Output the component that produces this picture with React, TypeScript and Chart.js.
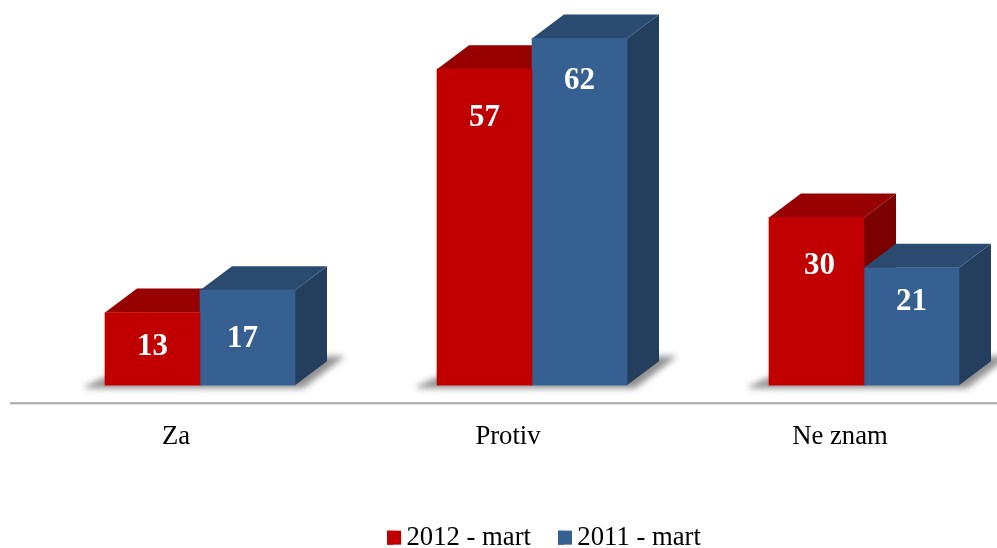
import React, { useEffect, useRef } from "react";
import { Chart, registerables } from "chart.js";

Chart.register(...registerables);

const categories = ["Za", "Protiv", "Ne znam"];
const series2012 = [13, 56.5, 30];
const series2011 = [17, 62, 21];
const seriesNames = ["2012 - mart", "2011 - mart"];

// Style: colours of the 3D faces and nudges of the value labels, in pixels.
const faces = [
  { front: "#c00000", top: "#960000", side: "#7c0000" },
  { front: "#376092", top: "#2a4a70", side: "#243e5e" },
];
const labelNudges = [
  [[0, 34], [0, 49], [3, 49]],
  [[-5, 49], [0, 43], [0, 34]],
];
const DEPTH_X = 32;
const DEPTH_Y = 24;
const LEGEND_SHIFT = 12;
const FONT = "'Liberation Serif', 'Times New Roman', serif";

const poly = (ctx: CanvasRenderingContext2D, pts: number[][], fill: string) => {
  ctx.beginPath();
  pts.forEach(([x, y], i) => (i ? ctx.lineTo(x, y) : ctx.moveTo(x, y)));
  ctx.closePath();
  ctx.fillStyle = fill;
  ctx.fill();
};

const bars3d = {
  id: "bars3d",
  afterLayout(chart: any) {
    chart.legend.left += LEGEND_SHIFT;
    chart.legend.right += LEGEND_SHIFT;
  },
  beforeDatasetsDraw(chart: any) {
    const { ctx } = chart;
    const first = chart.getDatasetMeta(0).data;
    const second = chart.getDatasetMeta(1).data;
    // floor shadows
    first.forEach((bar: any, i: number) => {
      const left = bar.x - bar.width / 2;
      const right = second[i].x + second[i].width / 2;
      const base = bar.base;
      ctx.save();
      ctx.filter = "blur(3px)";
      poly(
        ctx,
        [
          [left - 20, base + 1],
          [left + 14, base - 14],
          [right + DEPTH_X, base - 29],
          [right + DEPTH_X + 18, base - 29],
          [right + 8, base + 3],
          [left - 20, base + 3],
        ],
        "rgba(125,125,125,0.85)"
      );
      ctx.restore();
    });
    // top and side faces
    [first, second].forEach((bars: any[], d: number) => {
      bars.forEach((bar: any) => {
        const l = bar.x - bar.width / 2;
        const r = bar.x + bar.width / 2;
        const t = bar.y;
        const b = bar.base;
        poly(ctx, [[r, t], [r + DEPTH_X, t - DEPTH_Y], [r + DEPTH_X, b - DEPTH_Y], [r, b]], faces[d].side);
        poly(ctx, [[l, t], [l + DEPTH_X, t - DEPTH_Y], [r + DEPTH_X, t - DEPTH_Y], [r, t]], faces[d].top);
      });
    });
  },
  afterDatasetsDraw(chart: any) {
    const { ctx } = chart;
    ctx.save();
    ctx.fillStyle = "#ffffff";
    ctx.font = `bold 31px ${FONT}`;
    ctx.textAlign = "center";
    ctx.textBaseline = "middle";
    chart.data.datasets.forEach((ds: any, d: number) => {
      chart.getDatasetMeta(d).data.forEach((bar: any, i: number) => {
        const [nx, ny] = labelNudges[d][i];
        ctx.fillText(String(Math.round(ds.data[i])), bar.x + nx, bar.y + ny);
      });
    });
    ctx.restore();
  },
  afterDraw(chart: any) {
    const { ctx, scales } = chart;
    ctx.save();
    ctx.strokeStyle = "#a6a6a6";
    ctx.lineWidth = 2;
    ctx.beginPath();
    ctx.moveTo(10, scales.x.top);
    ctx.lineTo(chart.width, scales.x.top);
    ctx.stroke();
    // legend squares, wider than the native box so the text gap stays tight
    chart.legend.legendHitBoxes.forEach((box: any, i: number) => {
      ctx.fillStyle = faces[i].front;
      ctx.fillRect(box.left, box.top + (box.height - 14) / 2, 14, 14);
    });
    ctx.restore();
  },
};

export default function App() {
  const ref = useRef<HTMLCanvasElement>(null);
  useEffect(() => {
    const chart = new Chart(ref.current!, {
      type: "bar",
      data: {
        labels: categories,
        datasets: [
          { label: seriesNames[0], data: series2012, backgroundColor: faces[0].front, barThickness: 95 },
          { label: seriesNames[1], data: series2011, backgroundColor: faces[1].front, barThickness: 95 },
        ],
      },
      plugins: [bars3d],
      options: {
        animation: false,
        responsive: false,
        layout: { padding: { left: 34, right: 83, top: 0, bottom: 0 } },
        scales: {
          x: {
            grid: { display: false },
            border: { display: false },
            afterFit: (s: any) => {
              s.height = 94;
            },
            ticks: {
              color: "#000000",
              font: { family: FONT, size: 26.7 },
              labelOffset: -24,
              padding: 10,
              maxRotation: 0,
              autoSkip: false,
            },
          },
          y: { display: false, min: -3.22, max: 68.87 },
        },
        plugins: {
          tooltip: { enabled: false },
          legend: {
            position: "bottom",
            labels: {
              color: "#000000",
              font: { family: FONT, size: 26.7 },
              boxWidth: 6,
              boxHeight: 14,
              padding: 27,
            },
          },
        },
      },
    } as any);
    return () => chart.destroy();
  }, []);
  return (
    <div style={{ position: "fixed", left: 0, top: 0, width: 997, height: 548, overflow: "hidden", background: "#fff" }}>
      <canvas ref={ref} width={1113} height={561} style={{ display: "block" }} />
    </div>
  );
}
